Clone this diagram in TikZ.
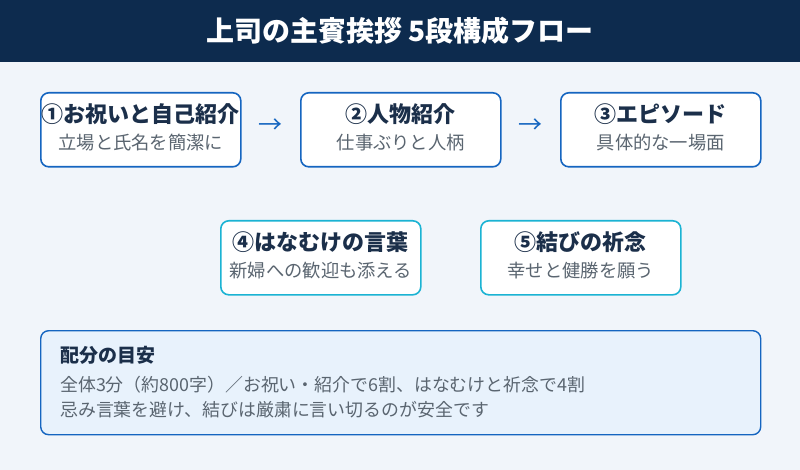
\documentclass[tikz,border=0pt]{standalone}
\usepackage{fontspec}
\usetikzlibrary{calc}
\setmainfont{Noto Sans CJK JP}
\definecolor{navy}{HTML}{0D2B4E}
\definecolor{bg}{HTML}{F1F5FA}
\definecolor{blueb}{HTML}{1565C0}
\definecolor{cyanb}{HTML}{1BB3D3}
\definecolor{txt}{HTML}{1B2F4A}
\definecolor{sub}{HTML}{5A6570}
\definecolor{notefill}{HTML}{E8F2FC}
\tikzset{
 stepbox/.style={draw=#1,line width=1.6pt,rounded corners=8pt,fill=white,minimum width=200pt,minimum height=74pt,anchor=north west},
 ttl/.style={font=\fontsize{22}{24}\selectfont\bfseries,text=txt},
 sbt/.style={font=\fontsize{18.3}{20}\selectfont,text=sub},
 nsb/.style={font=\fontsize{17.9}{20}\selectfont,text=sub,anchor=west,inner sep=0pt},
 arr/.style={font=\fontsize{24}{24}\selectfont,text=blueb}
}
\begin{document}
\begin{tikzpicture}[x=1pt,y=-1pt]
\fill[bg] (0,0) rectangle (800,470);
\fill[navy] (0,0) rectangle (800,62);
\node[text=white,font=\fontsize{28}{30}\selectfont\bfseries] (title) at (400,31) {上司の主賓挨拶 5段構成フロー};
\node[stepbox=blueb] (b1) at (40,92) {};
\node[stepbox=blueb] (b2) at (300,92) {};
\node[stepbox=blueb] (b3) at (560,92) {};
\node[stepbox=cyanb] (b4) at (220,220) {};
\node[stepbox=cyanb] (b5) at (480,220) {};
\foreach \b/\t/\s in {b1/①お祝いと自己紹介/立場と氏名を簡潔に, b2/②人物紹介/仕事ぶりと人柄, b3/③エピソード/具体的な一場面, b4/④はなむけの言葉/新婦への歓迎も添える, b5/⑤結びの祈念/幸せと健勝を願う}{
 \node[ttl] (\b t) at ([yshift=-22pt]\b.north) {\t};
 \node[sbt] (\b s) at ([yshift=-51pt]\b.north) {\s};
}
\node[arr] (a1) at ($(b1.east)!0.5!(b2.west)+(0,-4)$) {→};
\node[arr] (a2) at ($(b2.east)!0.5!(b3.west)+(0,-4)$) {→};
\node[draw=blueb,line width=1.4pt,fill=notefill,rounded corners=8pt,minimum width=720pt,minimum height=104pt,anchor=north west] (note) at (40,330) {};
\node[anchor=west,inner sep=0pt,font=\fontsize{19}{20}\selectfont\bfseries,text=txt] (nt) at (60,355) {配分の目安};
\node[nsb] (n1) at (60,385) {全体3分（約800字）／お祝い・紹介で6割、はなむけと祈念で4割};
\node[nsb] (n2) at (60,410) {忌み言葉を避け、結びは厳粛に言い切るのが安全です};
\end{tikzpicture}
\end{document}
